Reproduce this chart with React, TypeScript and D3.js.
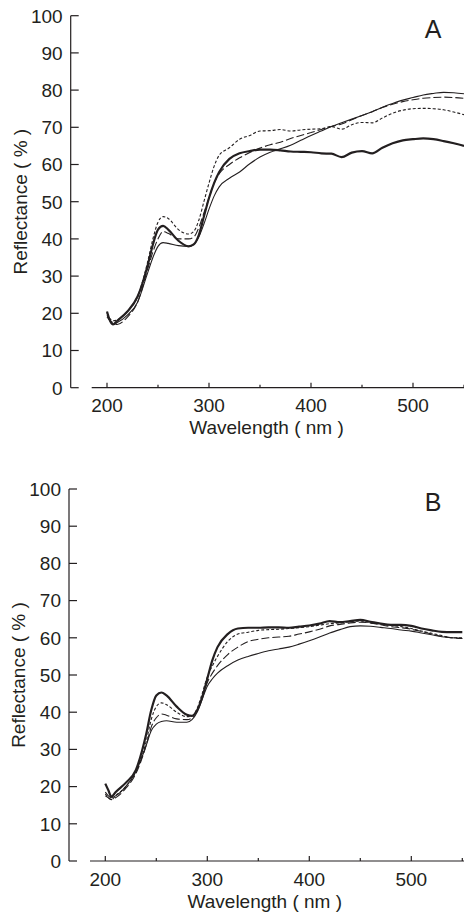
import React from "react";
import * as d3 from "d3";

const wavelengths = [200,203,206,210,220,230,240,245,250,255,260,270,280,285,290,295,300,305,310,320,330,340,350,360,370,380,390,400,410,420,430,440,450,460,470,480,490,500,510,520,530,540,550];

const aThick = [20.5,18,17,18,20.5,24.5,33,38.5,42.5,43.5,42.5,39.5,38,38.5,41,46,51,55,58,61.5,63,63.6,64,64,63.8,63.5,63.4,63.3,63,62.9,62,63.2,63.6,63,64.5,65.7,66.5,66.8,67,66.8,66.3,65.7,65];
const aThin = [19.5,18,17,17.5,19.5,23,31,35,38,39,38.8,38.2,38,38.5,40.5,44,48,51.5,54,56.3,58,60.2,62,63.3,64.2,65.2,66.5,67.8,69,70.2,71.2,72.2,73.2,74.2,75.4,76.4,77.3,78,78.7,79.1,79.4,79.3,79];
const aDashed = [19,18,17.5,17,19,23,32,36.5,40,42,41.5,40,40,40.5,43,47,51,55,57.5,60,61.8,63.2,64.4,65.3,66,67,67.8,68.6,69.4,70.2,70.9,72,73.2,74.2,75.3,76.2,76.9,77.4,77.8,78,78.1,78,77.8];
const aDotted = [20,18.5,18,18.2,20.5,24.5,34,40,44.5,46,45.5,42.5,41.3,42,45,50,55,59.5,62.5,64.5,66.8,67.8,69,69.1,69.4,69,69.3,69.5,69.6,70.2,69.5,70.7,71.3,71.2,72.5,73.8,74.6,75,75.1,75,74.7,74.1,73.4];

const bThick = [20.8,19,17.3,18.5,21,24.5,34,40.5,44.5,45.3,44.5,41.5,39.3,39,40.5,44,49,54,57.5,61,62.5,62.7,62.7,62.8,62.8,62.7,63,63.3,63.8,64.5,64.2,64.5,64.8,64.3,63.8,63.5,63.5,63.2,62.5,62,61.6,61.5,61.5];
const bDotted = [18,17,16.5,17.5,20,24,32,38,41.5,42.5,42,40,38.8,39,41,45,49.5,52.5,55,59,61,61.5,62,62.2,62.3,62.5,62.7,63,63.4,63.8,64,64.3,64.5,64,63.7,63.3,63,62.5,61.8,61.2,60.6,60,60];
const bDashed = [17.5,17,16.5,17,19.5,23.5,31,36,38.5,39.5,39.2,38.2,38,38.5,40.5,44,48,50.5,52.5,55.5,57.5,59,59.6,60,60.2,60.4,61,61.6,62.3,63.2,63.6,64,64.2,64,63.5,63,62.7,62.3,61.7,61,60.4,60,59.8];
const bThin = [18.5,17.5,17,17.5,20,24,31,35,36.8,37.5,37.7,37.3,37.3,38,40,43.5,47,49,50.5,52.5,54,55,55.8,56.5,57,57.5,58.3,59.2,60.2,61.3,62.2,63,63.2,63.1,62.8,62.5,62.1,61.8,61.3,60.8,60.3,60,59.8];

const yTicks = [0,10,20,30,40,50,60,70,80,90,100];
const xMajorTicks = [200,300,400,500];
const xMinorTicks = [250,350,450,550];

const INK = "#231f20";
const FONT = "'Liberation Sans', Arial, Helvetica, sans-serif";

type Style = { width: number; dash?: string };
const styles: Record<string, Style> = {
  thick: { width: 2.2 },
  thin: { width: 1.1 },
  dashed: { width: 1.1, dash: "8,3" },
  dotted: { width: 1.1, dash: "3,2" },
};

function Panel({ letter, top, left, series }: { letter: string; top: number; left: number; series: [string, number[]][] }) {
  const yBottom = top + 372;
  const y = d3.scaleLinear().domain([0, 100]).range([yBottom, top]);
  const x = d3.scaleLinear().domain([200, 500]).range([left, left + 306]);
  const axisX = left - 36.3;
  const xStart = left - 15.3;
  const line = d3
    .line<number>()
    .x((_, i) => x(wavelengths[i]))
    .y((d) => y(d))
    .curve(d3.curveMonotoneX);
  const clipId = "clip" + letter;
  return (
    <g>
      <defs>
        <clipPath id={clipId}>
          <rect x={axisX} y={top - 10} width={464 - axisX} height={yBottom - top + 10} />
        </clipPath>
      </defs>
      <line x1={axisX} x2={axisX} y1={top} y2={yBottom} stroke={INK} strokeWidth={1.2} />
      {yTicks.map((t) => (
        <g key={t}>
          <line x1={axisX} x2={axisX + 8} y1={y(t)} y2={y(t)} stroke={INK} strokeWidth={1.2} />
          <text x={axisX - 8} y={y(t)} dy="0.36em" textAnchor="end" fontSize={19} fontFamily={FONT} fill={INK}>
            {t}
          </text>
        </g>
      ))}
      <line x1={xStart} x2={464} y1={yBottom} y2={yBottom} stroke={INK} strokeWidth={1.2} />
      {xMajorTicks.map((t) => (
        <g key={t}>
          <line x1={x(t)} x2={x(t)} y1={yBottom} y2={yBottom - 5} stroke={INK} strokeWidth={1.2} />
          <text x={x(t)} y={yBottom + 24.5} textAnchor="middle" fontSize={19} fontFamily={FONT} fill={INK}>
            {t}
          </text>
        </g>
      ))}
      {xMinorTicks.map((t) => (
        <line key={t} x1={x(t)} x2={x(t)} y1={yBottom} y2={yBottom - 3} stroke={INK} strokeWidth={1.2} />
      ))}
      <text x={x(350) + 6.5} y={yBottom + 46.5} textAnchor="middle" fontSize={19} fontFamily={FONT} fill={INK}>
        Wavelength ( nm )
      </text>
      <text
        transform={`translate(${axisX - 51},${(top + yBottom) / 2}) rotate(-90)`}
        dy="0.36em"
        textAnchor="middle"
        fontSize={19}
        fontFamily={FONT}
        fill={INK}
      >
        Reflectance ( % )
      </text>
      <text x={433} y={top + 22.3} textAnchor="middle" fontSize={25} fontFamily={FONT} fill={INK}>
        {letter}
      </text>
      <g clipPath={`url(#${clipId})`}>
        {series.map(([kind, vals], i) => (
          <path
            key={i}
            d={line(vals) || ""}
            fill="none"
            stroke={INK}
            strokeWidth={styles[kind].width}
            strokeDasharray={styles[kind].dash}
            strokeLinejoin="round"
          />
        ))}
      </g>
    </g>
  );
}

export default function App() {
  return (
    <svg
      width={464}
      height={914}
      viewBox="0 0 464 914"
      style={{ position: "absolute", left: 0, top: 0, background: "#fff" }}
    >
      <rect x={0} y={0} width={464} height={914} fill="#fff" />
      <Panel
        letter="A"
        top={15.7}
        left={107}
        series={[["thin", aThin], ["dashed", aDashed], ["dotted", aDotted], ["thick", aThick]]}
      />
      <Panel
        letter="B"
        top={489}
        left={105.3}
        series={[["thin", bThin], ["dashed", bDashed], ["dotted", bDotted], ["thick", bThick]]}
      />
    </svg>
  );
}
